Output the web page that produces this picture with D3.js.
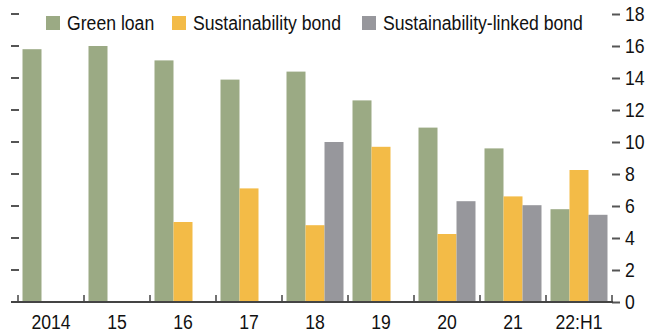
<!DOCTYPE html>
<html>
<head>
<meta charset="utf-8">
<script src="https://cdn.jsdelivr.net/npm/d3@7"></script>
<style>
  body { margin: 0; background: #fff; }
  svg text { font-family: "Liberation Sans", Arial, sans-serif; fill: #111; }
</style>
</head>
<body>
<svg id="chart" width="653" height="332"></svg>
<script>
"use strict";

// categories and series
var years = ["2014", "15", "16", "17", "18", "19", "20", "21", "22:H1"];
var seriesNames = ["Green loan", "Sustainability bond", "Sustainability-linked bond"];
var greenLoan = [15.8, 16.0, 15.1, 13.9, 14.4, 12.6, 10.9, 9.6, 5.8];
var sustBond = [null, null, 5.0, 7.1, 4.8, 9.7, 4.25, 6.6, 8.25];
var sustLinked = [null, null, null, null, 10.0, null, 6.3, 6.05, 5.45];
var yTicks = [0, 2, 4, 6, 8, 10, 12, 14, 16, 18];

var colors = ["rgb(155,170,132)", "rgb(243,187,71)", "rgb(151,151,156)"];
var allSeries = [greenLoan, sustBond, sustLinked];

//squeeze text horizontally to look like a condensed face
var squeeze = 0.84;
var fontSize = "21px";

var svg = d3.select("#chart");

//scales
var x = d3.scaleBand().domain(years).range([18, 612]);
var x1 = d3.scaleBand().domain(d3.range(3)).range([4.5, x.bandwidth() - 4.5]);
var y = d3.scaleLinear().domain([0, 18]).range([302, 14]);

//left tick marks (no labels)
svg.append("g")
  .selectAll("line")
  .data(yTicks.slice(1))
  .enter()
  .append("line")
  .attr("x1", 11).attr("x2", 19)
  .attr("y1", function(d) { return y(d); })
  .attr("y2", function(d) { return y(d); })
  .attr("stroke", "#555")
  .attr("stroke-width", 2);

//bars
allSeries.forEach(function(vals, s) {
    svg.append("g")
      .selectAll("rect")
      .data(vals.map(function(v, i) { return {v: v, c: years[i]}; }).filter(function(d) { return d.v != null; }))
      .enter()
      .append("rect")
      .attr("x", function(d) { return x(d.c) + x1(s); })
      .attr("width", x1.bandwidth())
      .attr("y", function(d) { return y(d.v); })
      .attr("height", function(d) { return y(0) - y(d.v); })
      .attr("fill", colors[s]);
});

//right axis
var yAxis = d3.axisRight(y).tickValues(yTicks).tickSize(8).tickPadding(4).tickFormat(d3.format("d"));
var ya = svg.append("g").attr("transform", "translate(612,0)").call(yAxis);
ya.select(".domain").remove();
ya.selectAll("line").attr("stroke", "#555").attr("stroke-width", 2);
ya.selectAll("text")
  .attr("x", 0)
  .attr("transform", "translate(13,0) scale(" + squeeze + ",1)")
  .attr("font-size", fontSize)
  .attr("fill", "#111");

//baseline
svg.append("line")
  .attr("x1", 11).attr("x2", 613)
  .attr("y1", y(0)).attr("y2", y(0))
  .attr("stroke", "#444").attr("stroke-width", 2);

//category separator ticks
var bounds = years.map(function(d) { return x(d); }).concat([612]);
svg.append("g")
  .selectAll("line")
  .data(bounds)
  .enter()
  .append("line")
  .attr("x1", function(d) { return d; }).attr("x2", function(d) { return d; })
  .attr("y1", y(0) - 7).attr("y2", y(0))
  .attr("stroke", "#444").attr("stroke-width", 1.5);

//category labels
svg.append("g")
  .selectAll("text")
  .data(years)
  .enter()
  .append("text")
  .attr("transform", function(d) { return "translate(" + (x(d) + x.bandwidth() / 2) + ",328.5) scale(" + squeeze + ",1)"; })
  .attr("text-anchor", "middle")
  .attr("font-size", fontSize)
  .text(function(d) { return d; });

//legend
var legendX = [46, 172, 362];
var leg = svg.append("g")
  .selectAll("g")
  .data(seriesNames)
  .enter()
  .append("g")
  .attr("transform", function(d, i) { return "translate(" + legendX[i] + ",0)"; });
leg.append("rect")
  .attr("x", 0).attr("y", 16).attr("width", 14).attr("height", 14)
  .attr("fill", function(d, i) { return colors[i]; });
leg.append("text")
  .attr("transform", "translate(21,30) scale(" + squeeze + ",1)")
  .attr("font-size", fontSize)
  .text(function(d) { return d; });
</script>
</body>
</html>
